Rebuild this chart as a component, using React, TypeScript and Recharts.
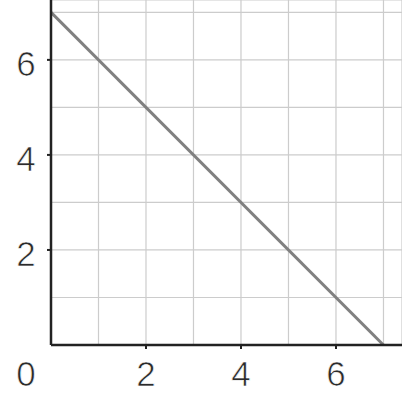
import { LineChart, Line, XAxis, YAxis, CartesianGrid } from "recharts";

const xValues = [0, 7];
const yValues = [7, 0];
const gridTicks = [0, 1, 2, 3, 4, 5, 6, 7];
const labeledX = [0, 2, 4, 6];
const labeledY = [2, 4, 6];

const data = xValues.map((x, i) => ({ x, y: yValues[i] }));

const FONT = "'Liberation Sans', Arial, sans-serif";

// thin white outline drawn over the glyphs to get the light look of the original
const labelStyle = {
  fontSize: 35,
  fontFamily: FONT,
  fill: "#2b2b2b",
  stroke: "#ffffff",
  strokeWidth: 0.7,
};

const XTick = ({ x, y, payload }: any) => {
  const v = payload.value;
  if (!labeledX.includes(v)) return null;
  const isZero = v === 0;
  return (
    <g>
      {!isZero && <line x1={x} x2={x} y1={y} y2={y + 4} stroke="#222" strokeWidth={2} />}
      <text
        x={isZero ? x - 25 : x}
        y={y + 28}
        textAnchor="middle"
        dominantBaseline="central"
        {...labelStyle}
      >
        {v}
      </text>
    </g>
  );
};

const YTick = ({ x, y, payload }: any) => {
  const v = payload.value;
  if (!labeledY.includes(v)) return null;
  return (
    <g>
      <line x1={x - 4} x2={x} y1={y} y2={y} stroke="#222" strokeWidth={2} />
      <text
        x={x - 25}
        y={y + 4}
        textAnchor="middle"
        dominantBaseline="central"
        {...labelStyle}
      >
        {v}
      </text>
    </g>
  );
};

export default function App() {
  return (
    <div style={{ position: "absolute", left: 0, top: 0, background: "#fff" }}>
      <LineChart
        width={402}
        height={400}
        data={data}
        margin={{ top: 0, right: 0, bottom: 0, left: 0 }}
      >
        <CartesianGrid stroke="#cccccc" strokeWidth={1.2} horizontal vertical />
        <XAxis
          type="number"
          dataKey="x"
          domain={[0, 7.39]}
          ticks={gridTicks}
          interval={0}
          height={55}
          tickSize={0}
          tickMargin={0}
          axisLine={{ stroke: "#222", strokeWidth: 2.5 }}
          tickLine={false}
          tick={<XTick />}
          allowDataOverflow
        />
        <YAxis
          type="number"
          dataKey="y"
          domain={[0, 7.26]}
          ticks={gridTicks}
          interval={0}
          width={51}
          tickSize={0}
          tickMargin={0}
          axisLine={{ stroke: "#222", strokeWidth: 2.5 }}
          tickLine={false}
          tick={<YTick />}
          allowDataOverflow
        />
        <Line
          type="linear"
          dataKey="y"
          stroke="#808080"
          strokeWidth={3}
          dot={false}
          isAnimationActive={false}
        />
      </LineChart>
    </div>
  );
}
